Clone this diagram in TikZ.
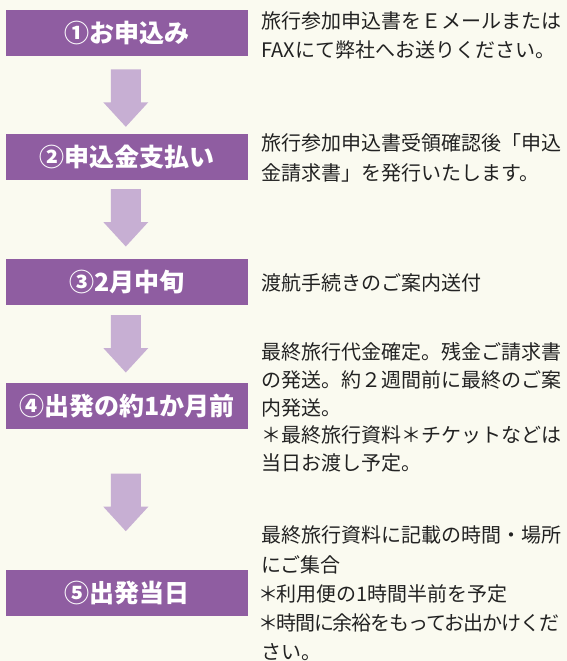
\documentclass[tikz,border=0pt]{standalone}
\usepackage{fontspec}
\setmainfont{Noto Sans CJK JP}
\definecolor{bgc}{HTML}{FAFAF0}
\definecolor{boxc}{HTML}{8F5DA1}
\definecolor{arrc}{HTML}{C7AFD3}
\definecolor{txtc}{HTML}{222222}
\tikzset{
  stepbox/.style={fill=boxc, minimum width=242pt, minimum height=45.7pt, inner sep=0pt,
    text=white, font=\fontsize{25}{30}\selectfont\bfseries},
  desc/.style={anchor=west, align=left, inner sep=0pt, text=txtc},
  flowarr/.style={fill=arrc},
}
\newcommand\flowarrow[1]{\fill[flowarr] (#1) ++(-15,0) -- ++(30,0) -- ++(0,-33) -- ++(7.5,0)
  -- ++(-22.5,-24.5) -- ++(-22.5,24.5) -- ++(7.5,0) -- cycle;}
\newcommand\narrowast{\makebox[15pt]{＊}}
\begin{document}
\begin{tikzpicture}[x=1pt,y=1pt]
\fill[bgc] (0,0) rectangle (567,-661);
\useasboundingbox (0,0) rectangle (567,-661);
% step boxes
\node[stepbox] (s1) at (127,-32.85) {①お申込み};
\node[stepbox] (s2) at (127,-157) {②申込金支払い};
\node[stepbox] (s3) at (127,-281.85) {③2月中旬};
\node[stepbox] (s4) at (127,-406.15) {④出発の約1か月前};
\node[stepbox] (s5) at (127,-592.85) {⑤出発当日};
% arrows
\coordinate (a1) at (125.8,-69.3);
\coordinate (a2) at (125.8,-189);
\coordinate (a3) at (125.8,-315);
\coordinate (a4) at (125.8,-473.7);
\flowarrow{a1}
\flowarrow{a2}
\flowarrow{a3}
\flowarrow{a4}
% descriptions
\node[desc, font=\fontsize{20}{29.3}\selectfont] (d1) at (261,-35.5)
  {旅行参加申込書をＥメールまたは\\FAXにて弊社へお送りください。};
\node[desc, font=\fontsize{20}{30}\selectfont] (d2) at (261,-158)
  {旅行参加申込書受領確認後「申込\\金請求書」を発行いたします。};
\node[desc, font=\fontsize{20}{28}\selectfont] (d3) at (261,-283)
  {渡航手続きのご案内送付};
\node[desc, font=\fontsize{20}{27.8}\selectfont] (d4) at (261,-407.4)
  {最終旅行代金確定。残金ご請求書\\の発送。約２週間前に最終のご案\\内発送。\\＊最終旅行資料＊チケットなどは\\当日お渡し予定。};
\node[desc, font=\fontsize{20}{29.2}\selectfont] (d5) at (261,-593.4)
  {最終旅行資料に記載の時間・場所\\にご集合\\\narrowast 利用便の1時間半前を予定\\\narrowast{\addfontfeature{LetterSpace=-5.5}時間に余裕をもってお出かけくだ}\\さい。};
\end{tikzpicture}
\end{document}
